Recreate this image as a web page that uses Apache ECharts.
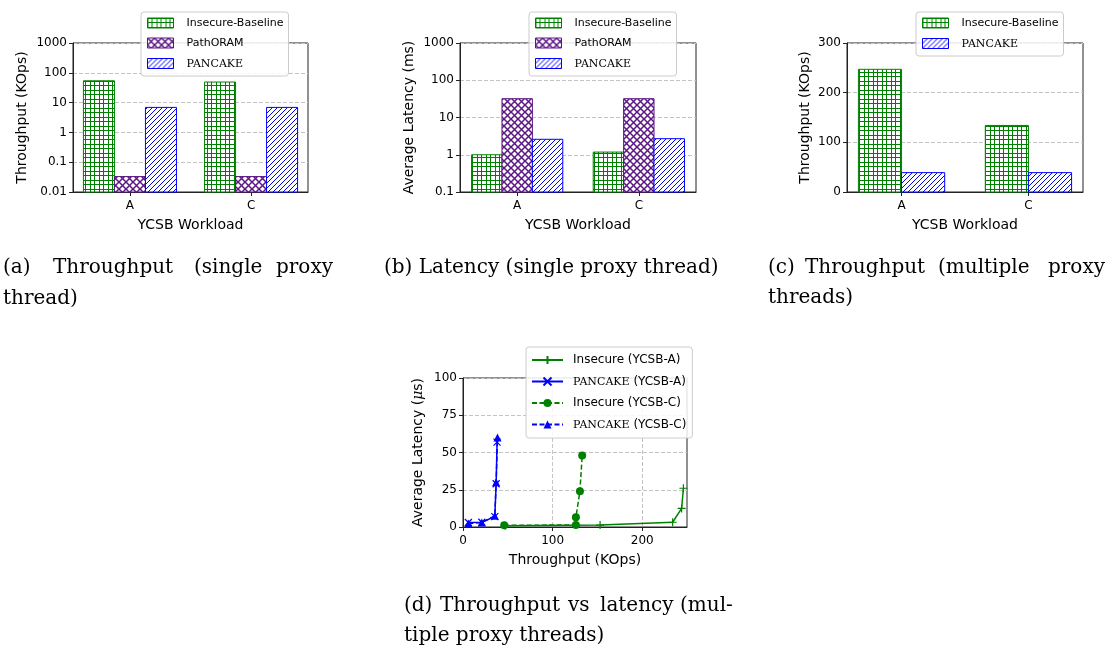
<!DOCTYPE html>
<html>
<head>
<meta charset="utf-8">
<script src="https://cdn.jsdelivr.net/npm/echarts@6/dist/echarts.min.js"></script>
<style>
  html, body { margin: 0; background: #fff; }
  #main { width: 1119px; height: 649px; }
</style>
</head>
<body>
<div id="main"></div>
<script>
const workloads = ['A', 'C'];
// (a) throughput, single proxy thread (KOps, log scale)
const thrSingleBaseline = [54, 49];
const thrSinglePathOram = [0.033, 0.033];
const thrSinglePancake = [6.9, 6.9];
// (b) average latency, single proxy thread (ms, log scale)
const latSingleBaseline = [1.0, 1.18];
const latSinglePathOram = [32, 32];
const latSinglePancake = [2.6, 2.7];
// (c) throughput, multiple proxy threads (KOps)
const thrMultiBaseline = [247, 134];
const thrMultiPancake = [39, 39];
// (d) throughput (KOps) vs average latency (us)
const insecureA = [[47, 0.9], [153, 1.3], [234, 3.2], [244, 12.5], [246, 26]];
const pancakeA = [[6, 3], [21, 3.2], [35.5, 7], [37, 29], [38, 57]];
const insecureC = [[46, 1.2], [126, 1.3], [126, 6.5], [130.5, 24], [133, 48]];
const pancakeC = [[6, 2.3], [21, 3], [35.5, 7.5], [37, 30], [38.5, 60]];
const xTicksD = [0, 100, 200];

const GREEN = '#008000';
const PURPLE = '#5c1685';
const BLUE = '#0000ff';
const FONT = 'DejaVu Sans';

// hatch fills like matplotlib's '++', 'xx' and '///'
function hatch(kind, color) {
  const s = kind === 'grid' ? 9 : kind === 'cross' ? 7 : 5;
  const c = document.createElement('canvas');
  c.width = c.height = s;
  const g = c.getContext('2d');
  g.fillStyle = '#fff';
  g.fillRect(0, 0, s, s);
  g.strokeStyle = color;
  g.lineWidth = 1;
  g.beginPath();
  if (kind === 'grid') {
    [0.5, 4.5].forEach(p => {
      g.moveTo(p, 0); g.lineTo(p, s);
      g.moveTo(0, p); g.lineTo(s, p);
    });
  } else if (kind === 'cross') {
    g.lineWidth = 1.5;
    g.moveTo(-1, -1); g.lineTo(s + 1, s + 1);
    g.moveTo(s + 1, -1); g.lineTo(-1, s + 1);
  } else {
    g.moveTo(-1, s + 1); g.lineTo(s + 1, -1);
    g.moveTo(-1, 1); g.lineTo(1, -1);
    g.moveTo(s - 1, s + 1); g.lineTo(s + 1, s - 1);
  }
  g.stroke();
  return { image: c, repeat: 'repeat' };
}

const fillBase = hatch('grid', GREEN);
const fillOram = hatch('cross', PURPLE);
const fillPancake = hatch('diag', BLUE);

function barSeries(name, values, grid, slot, count, width, yMin, color, fill) {
  return {
    type: 'custom',
    name: name,
    xAxisIndex: grid,
    yAxisIndex: grid,
    encode: { x: 0, y: 1 },
    itemStyle: { color: fill, borderColor: color, borderWidth: 1 },
    data: values.map((v, i) => [i, v]),
    renderItem: function (params, api) {
      const x0 = api.value(0) + (slot - count / 2) * width;
      const p1 = api.coord([x0, api.value(1)]);
      const p2 = api.coord([x0 + width, yMin]);
      return {
        type: 'rect',
        shape: { x: p1[0], y: p1[1], width: p2[0] - p1[0], height: p2[1] - p1[1] },
        style: { fill: fill, stroke: color, lineWidth: 1 }
      };
    }
  };
}

const axisText = { fontFamily: FONT, fontSize: 12, color: '#000' };
const nameText = {
  fontFamily: FONT, fontSize: 14, color: '#000',
  rich: { it: { fontFamily: 'DejaVu Serif', fontStyle: 'italic', fontSize: 14, color: '#000' } }
};
const frameLine = { show: true, onZero: false, lineStyle: { color: '#222', width: 1 } };
const tick = { show: true, length: 4, lineStyle: { color: '#222' } };
const gridLine = { show: true, lineStyle: { color: '#c4c4c4', type: [4, 2], width: 1 } };

function barX(grid, lo, hi) {
  return {
    type: 'value', gridIndex: grid, min: lo, max: hi,
    name: 'YCSB Workload', nameLocation: 'middle', nameGap: 26, nameTextStyle: nameText,
    axisLine: frameLine,
    axisTick: Object.assign({ customValues: [0, 1] }, tick),
    axisLabel: Object.assign({ customValues: [0, 1], formatter: v => workloads[v] }, axisText),
    splitLine: { show: false }
  };
}

function logY(grid, lo, hi, name, gap) {
  return {
    type: 'log', logBase: 10, gridIndex: grid, min: lo, max: hi,
    name: name, nameLocation: 'middle', nameGap: gap, nameTextStyle: nameText,
    axisLine: frameLine, axisTick: tick,
    axisLabel: Object.assign({ margin: 6, formatter: v => String(+v.toPrecision(2)) }, axisText),
    splitLine: gridLine,
    minorTick: { show: false }
  };
}

const scName = n => n.replace('PANCAKE', '{sc|pancake}');
const legendBase = {
  orient: 'vertical', selectedMode: false,
  backgroundColor: 'rgba(255,255,255,0.85)', borderColor: '#cccccc', borderWidth: 1, borderRadius: 3,
  icon: 'rect', formatter: scName
};
function legendText(size) {
  return {
    fontFamily: FONT, fontSize: size, color: '#000', lineHeight: 14,
    rich: { sc: { fontFamily: 'DejaVu Serif', fontStyle: 'small-caps', fontSize: 15, color: '#000', lineHeight: 14 } }
  };
}
const patchItem = (name, color, fill) => ({ name: name, itemStyle: { color: fill, borderColor: color, borderWidth: 1 } });

const barLegend = (left, items) => Object.assign({}, legendBase, {
  left: left, top: 12, padding: [4, 5, 5, 6],
  itemWidth: 26, itemHeight: 10, itemGap: 6,
  textStyle: Object.assign(legendText(11), { padding: [0, 0, 0, 8] }),
  data: items
});

const captions = [
  ['(a)', 3, 268], ['Throughput', 53, 268], ['(single', 194, 268], ['proxy', 276, 268], ['thread)', 3, 299],
  ['(b) Latency (single proxy thread)', 384, 268],
  ['(c)', 768, 268], ['Throughput', 805, 268], ['(multiple', 938, 268], ['proxy', 1048, 268], ['threads)', 768, 298],
  ['(d)', 404, 606], ['Throughput', 440, 606], ['vs', 568, 606], ['latency', 600, 606], ['(mul-', 680, 606],
  ['tiple proxy threads)', 404, 636]
];

const plus = 'path://M5,0L5,10M0,5L10,5';
const cross = 'path://M0,0L10,10M10,0L0,10';

const chart = echarts.init(document.getElementById('main'), null, { renderer: 'canvas' });
chart.setOption({
  animation: false,
  textStyle: { fontFamily: FONT },
  grid: [
    { left: 73, top: 43, width: 235, height: 149 },
    { left: 460, top: 43, width: 236, height: 149 },
    { left: 847, top: 43, width: 236, height: 149 },
    { left: 463, top: 378, width: 224, height: 149 }
  ].map(g => Object.assign({ show: true, borderColor: '#222', borderWidth: 1, backgroundColor: 'transparent' }, g)),
  xAxis: [
    barX(0, -0.47, 1.47),
    barX(1, -0.47, 1.47),
    barX(2, -0.43, 1.43),
    {
      type: 'value', gridIndex: 3, min: 0, max: 250,
      name: 'Throughput (KOps)', nameLocation: 'middle', nameGap: 26, nameTextStyle: nameText,
      axisLine: frameLine,
      axisTick: Object.assign({ customValues: xTicksD }, tick),
      axisLabel: Object.assign({ customValues: xTicksD }, axisText),
      splitLine: gridLine
    }
  ],
  yAxis: [
    logY(0, 0.01, 1000, 'Throughput (KOps)', 44),
    logY(1, 0.1, 1000, 'Average Latency (ms)', 44),
    {
      type: 'value', gridIndex: 2, min: 0, max: 300, interval: 100,
      name: 'Throughput (KOps)', nameLocation: 'middle', nameGap: 35, nameTextStyle: nameText,
      axisLine: frameLine, axisTick: tick,
      axisLabel: Object.assign({ margin: 6 }, axisText),
      splitLine: gridLine
    },
    {
      type: 'value', gridIndex: 3, min: 0, max: 100, interval: 25,
      name: 'Average Latency ({it|μ}s)', nameLocation: 'middle', nameGap: 38, nameTextStyle: nameText,
      axisLine: frameLine, axisTick: tick,
      axisLabel: Object.assign({ margin: 6 }, axisText),
      splitLine: gridLine
    }
  ],
  legend: [
    barLegend(141, [patchItem('Insecure-Baseline', GREEN, fillBase), patchItem('PathORAM', PURPLE, fillOram), patchItem('PANCAKE', BLUE, fillPancake)]),
    barLegend(529, [patchItem('Insecure-Baseline', GREEN, fillBase), patchItem('PathORAM', PURPLE, fillOram), patchItem('PANCAKE', BLUE, fillPancake)]),
    barLegend(916, [patchItem('Insecure-Baseline', GREEN, fillBase), patchItem('PANCAKE', BLUE, fillPancake)]),
    Object.assign({}, legendBase, {
      left: 526, top: 347, padding: [6, 6, 6, 5], icon: null,
      itemWidth: 31, itemHeight: 10, itemGap: 7,
      textStyle: Object.assign(legendText(12), { padding: [0, 0, 0, 5] }),
      data: ['Insecure (YCSB-A)', 'PANCAKE (YCSB-A)', 'Insecure (YCSB-C)', 'PANCAKE (YCSB-C)']
    })
  ],
  series: [
    barSeries('Insecure-Baseline', thrSingleBaseline, 0, 0, 3, 0.256, 0.01, GREEN, fillBase),
    barSeries('PathORAM', thrSinglePathOram, 0, 1, 3, 0.256, 0.01, PURPLE, fillOram),
    barSeries('PANCAKE', thrSinglePancake, 0, 2, 3, 0.256, 0.01, BLUE, fillPancake),
    barSeries('Insecure-Baseline', latSingleBaseline, 1, 0, 3, 0.25, 0.1, GREEN, fillBase),
    barSeries('PathORAM', latSinglePathOram, 1, 1, 3, 0.25, 0.1, PURPLE, fillOram),
    barSeries('PANCAKE', latSinglePancake, 1, 2, 3, 0.25, 0.1, BLUE, fillPancake),
    barSeries('Insecure-Baseline', thrMultiBaseline, 2, 0, 2, 0.34, 0, GREEN, fillBase),
    barSeries('PANCAKE', thrMultiPancake, 2, 1, 2, 0.34, 0, BLUE, fillPancake),
    {
      type: 'line', name: 'Insecure (YCSB-A)', xAxisIndex: 3, yAxisIndex: 3, data: insecureA,
      symbol: plus, symbolSize: 8, showAllSymbol: true,
      lineStyle: { color: GREEN, width: 1.5 },
      itemStyle: { color: GREEN, borderColor: GREEN, borderWidth: 1.2 }
    },
    {
      type: 'line', name: 'PANCAKE (YCSB-A)', xAxisIndex: 3, yAxisIndex: 3, data: pancakeA,
      symbol: cross, symbolSize: 7, showAllSymbol: true,
      lineStyle: { color: BLUE, width: 1.5 },
      itemStyle: { color: BLUE, borderColor: BLUE, borderWidth: 1.2 }
    },
    {
      type: 'line', name: 'Insecure (YCSB-C)', xAxisIndex: 3, yAxisIndex: 3, data: insecureC,
      symbol: 'circle', symbolSize: 8, showAllSymbol: true,
      lineStyle: { color: GREEN, width: 1.5, type: [5, 2.5] },
      itemStyle: { color: GREEN, borderWidth: 0 }
    },
    {
      type: 'line', name: 'PANCAKE (YCSB-C)', xAxisIndex: 3, yAxisIndex: 3, data: pancakeC,
      symbol: 'triangle', symbolSize: 8, showAllSymbol: true,
      lineStyle: { color: BLUE, width: 1.5, type: [5, 2.5] },
      itemStyle: { color: BLUE, borderWidth: 0 }
    }
  ],
  graphic: captions.map(c => ({
    type: 'text', x: c[1], y: c[2], silent: true,
    style: { text: c[0], fill: '#000', font: '20px "DejaVu Serif"', verticalAlign: 'middle', align: 'left' }
  }))
});
</script>
</body>
</html>
